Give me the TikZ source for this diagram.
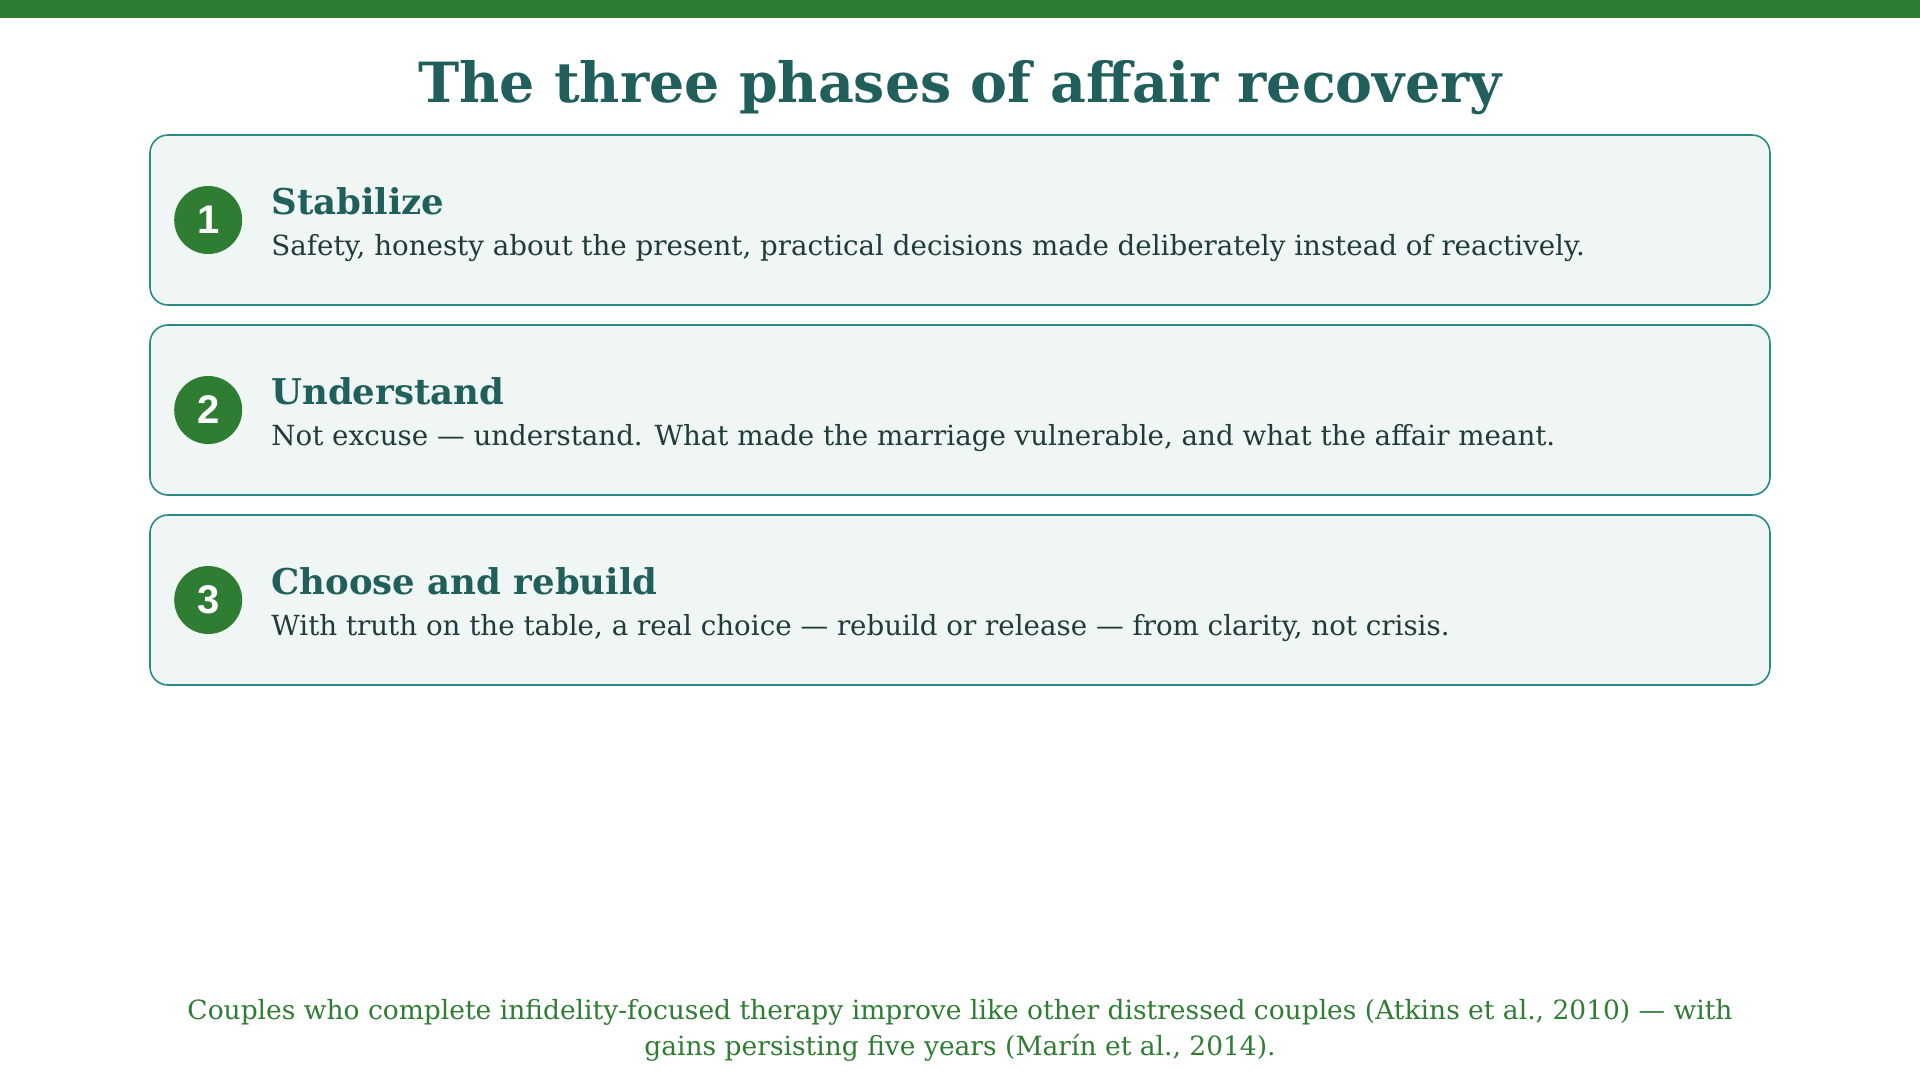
\documentclass[tikz,border=0pt]{standalone}
\usepackage{fontspec}
\setmainfont{DejaVu Serif}
\newfontfamily\numfont{Liberation Sans}
\usetikzlibrary{positioning, calc}
\definecolor{barGreen}{HTML}{2E7D32}
\definecolor{titleTeal}{HTML}{215F5D}
\definecolor{cardEdge}{HTML}{2A8A86}
\definecolor{cardFill}{HTML}{EFF6F3}
\definecolor{bodyInk}{HTML}{1F3B3B}
\tikzset{card/.style={draw=cardEdge, fill=cardFill, line width=1.6pt, rounded corners=18pt, minimum width=1620pt, minimum height=170pt, inner sep=0pt}}
\tikzset{badge/.style={circle, fill=barGreen, minimum size=68pt, inner sep=0pt, text=white, font=\numfont\bfseries\fontsize{40}{40}\selectfont}}
\tikzset{phase/.style={anchor=base west, inner sep=0pt, text=titleTeal, font=\bfseries\fontsize{35.5}{35.5}\selectfont}}
\tikzset{detail/.style={anchor=base west, inner sep=0pt, text=bodyInk, font=\fontsize{27.7}{27.7}\selectfont}}
\tikzset{foot/.style={anchor=base, inner sep=0pt, text=barGreen, font=\fontsize{26.5}{26.5}\selectfont}}

\begin{document}
\begin{tikzpicture}[x=1pt, y=-1pt]
  \useasboundingbox (0,0) rectangle (1920,1080);
  \fill[barGreen] (0,0) rectangle (1920,18);

  \node[anchor=base, inner sep=0pt, text=titleTeal, font=\bfseries\fontsize{55.4}{55.4}\selectfont] (title) at (960,102) {The three phases of affair recovery};

  % phase 1
  \node[card] (card1) at (960,220) {};
  \node[badge] (num1) at ($(card1.west)+(59,0)$) {1};
  \node[phase] (head1) at ($(card1.west)+(122,-6)$) {Stabilize};
  \node[detail] (text1) at ($(card1.west)+(122,35)$) {Safety, honesty about the present, practical decisions made deliberately instead of reactively.};

  % phase 2
  \node[card] (card2) at (960,410) {};
  \node[badge] (num2) at ($(card2.west)+(59,0)$) {2};
  \node[phase] (head2) at ($(card2.west)+(122,-6)$) {Understand};
  \node[detail] (text2) at ($(card2.west)+(122,35)$) {Not excuse — understand. What made the marriage vulnerable, and what the affair meant.};

  % phase 3
  \node[card] (card3) at (960,600) {};
  \node[badge] (num3) at ($(card3.west)+(59,0)$) {3};
  \node[phase] (head3) at ($(card3.west)+(122,-6)$) {Choose and rebuild};
  \node[detail] (text3) at ($(card3.west)+(122,35)$) {With truth on the table, a real choice — rebuild or release — from clarity, not crisis.};

  \node[foot] (foot1) at (960,1019) {Couples who complete infidelity-focused therapy improve like other distressed couples (Atkins et al., 2010) — with};
  \node[foot] (foot2) at (960,1055) {gains persisting five years (Marín et al., 2014).};
\end{tikzpicture}
\end{document}
